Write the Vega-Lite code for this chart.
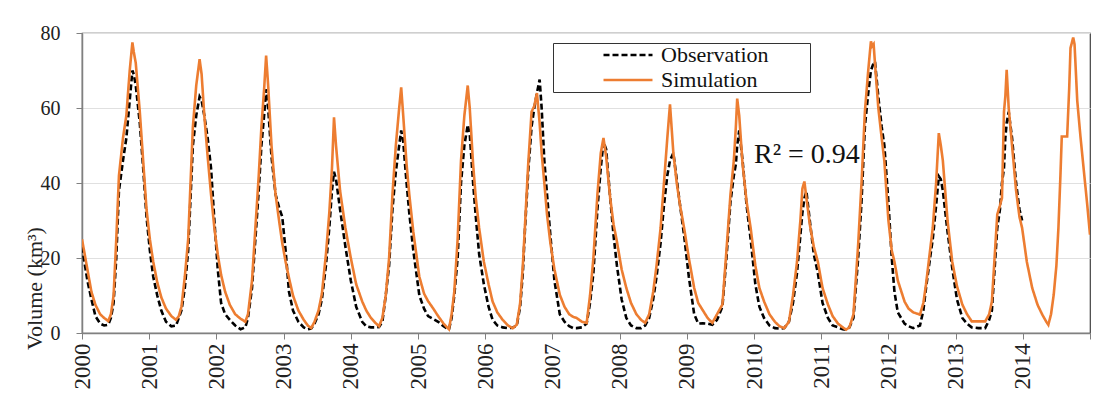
{
  "$schema": "https://vega.github.io/schema/vega-lite/v6.json",
  "width": 1008,
  "height": 300,
  "autosize": "none",
  "padding": {"left": 82, "top": 33, "right": 12, "bottom": 63},
  "background": "white",
  "config": {
    "view": {"stroke": "#404040", "strokeWidth": 1.2},
    "font": "Liberation Serif",
    "axis": {
      "labelFont": "Liberation Serif",
      "labelColor": "#222",
      "titleFont": "Liberation Serif",
      "titleColor": "#222",
      "titleFontWeight": "normal",
      "tickColor": "#808080",
      "domainColor": "#808080",
      "domainWidth": 1.5,
      "tickSize": 6
    },
    "axisX": {
      "labelFontSize": 23,
      "labelAngle": 270,
      "labelAlign": "right",
      "labelBaseline": "middle",
      "labelPadding": 4,
      "labelOverlap": false,
      "labelFlush": false,
      "grid": false
    },
    "axisY": {
      "labelFontSize": 20,
      "labelPadding": 16,
      "titleFontSize": 22,
      "grid": true,
      "gridColor": "#e0e0e0",
      "gridWidth": 1.2
    },
    "legend": {
      "labelFont": "Liberation Serif",
      "labelFontSize": 22,
      "labelColor": "#111",
      "titleFont": "Liberation Serif"
    }
  },
  "layer": [
    {
      "data": {"values": [
        {"t":2000.00,"Simulation":25,"Observation":23},
        {"t":2000.08,"Simulation":17,"Observation":14},
        {"t":2000.14,"Simulation":11,"Observation":9},
        {"t":2000.20,"Simulation":7.5,"Observation":4.5},
        {"t":2000.27,"Simulation":5,"Observation":2.5},
        {"t":2000.33,"Simulation":4,"Observation":2},
        {"t":2000.39,"Simulation":3.2,"Observation":2.2},
        {"t":2000.43,"Simulation":5,"Observation":4},
        {"t":2000.47,"Simulation":10,"Observation":8},
        {"t":2000.51,"Simulation":25,"Observation":20},
        {"t":2000.55,"Simulation":42,"Observation":38},
        {"t":2000.61,"Simulation":52,"Observation":46},
        {"t":2000.66,"Simulation":58,"Observation":52},
        {"t":2000.71,"Simulation":70,"Observation":62},
        {"t":2000.75,"Simulation":77.5,"Observation":70},
        {"t":2000.77,"Simulation":75,"Observation":69},
        {"t":2000.80,"Simulation":72,"Observation":66},
        {"t":2000.86,"Simulation":59,"Observation":56},
        {"t":2000.91,"Simulation":46,"Observation":44},
        {"t":2000.96,"Simulation":33,"Observation":31},
        {"t":2001.01,"Simulation":25,"Observation":22},
        {"t":2001.06,"Simulation":19,"Observation":15},
        {"t":2001.12,"Simulation":13.5,"Observation":10},
        {"t":2001.18,"Simulation":9.5,"Observation":6},
        {"t":2001.25,"Simulation":6.5,"Observation":3},
        {"t":2001.33,"Simulation":4.5,"Observation":1.8},
        {"t":2001.40,"Simulation":3.5,"Observation":2},
        {"t":2001.44,"Simulation":4.5,"Observation":4},
        {"t":2001.48,"Simulation":7,"Observation":6},
        {"t":2001.53,"Simulation":15,"Observation":12},
        {"t":2001.58,"Simulation":25,"Observation":22},
        {"t":2001.65,"Simulation":55,"Observation":50},
        {"t":2001.70,"Simulation":66,"Observation":58},
        {"t":2001.75,"Simulation":73,"Observation":63},
        {"t":2001.78,"Simulation":69,"Observation":62},
        {"t":2001.82,"Simulation":58,"Observation":58},
        {"t":2001.87,"Simulation":47,"Observation":52},
        {"t":2001.92,"Simulation":37,"Observation":44},
        {"t":2001.97,"Simulation":28,"Observation":30},
        {"t":2002.02,"Simulation":21,"Observation":17},
        {"t":2002.07,"Simulation":15.5,"Observation":8},
        {"t":2002.13,"Simulation":11,"Observation":5},
        {"t":2002.20,"Simulation":7.5,"Observation":3.5},
        {"t":2002.28,"Simulation":5,"Observation":2},
        {"t":2002.36,"Simulation":3.8,"Observation":1},
        {"t":2002.43,"Simulation":3,"Observation":1.5},
        {"t":2002.47,"Simulation":5,"Observation":4},
        {"t":2002.53,"Simulation":14,"Observation":12},
        {"t":2002.58,"Simulation":28,"Observation":25},
        {"t":2002.63,"Simulation":42,"Observation":38},
        {"t":2002.67,"Simulation":55,"Observation":50},
        {"t":2002.71,"Simulation":65,"Observation":58},
        {"t":2002.74,"Simulation":74,"Observation":65},
        {"t":2002.77,"Simulation":66,"Observation":60},
        {"t":2002.82,"Simulation":50,"Observation":47},
        {"t":2002.88,"Simulation":37,"Observation":37},
        {"t":2002.94,"Simulation":29,"Observation":33},
        {"t":2002.98,"Simulation":24,"Observation":31},
        {"t":2003.03,"Simulation":19,"Observation":22},
        {"t":2003.08,"Simulation":14.7,"Observation":11},
        {"t":2003.14,"Simulation":10,"Observation":6},
        {"t":2003.22,"Simulation":6,"Observation":3},
        {"t":2003.30,"Simulation":3.5,"Observation":1.5},
        {"t":2003.36,"Simulation":2,"Observation":1},
        {"t":2003.41,"Simulation":1.3,"Observation":1.2},
        {"t":2003.46,"Simulation":3,"Observation":2.5},
        {"t":2003.52,"Simulation":6,"Observation":5},
        {"t":2003.57,"Simulation":10.5,"Observation":9},
        {"t":2003.63,"Simulation":21,"Observation":18},
        {"t":2003.68,"Simulation":32,"Observation":28},
        {"t":2003.72,"Simulation":44,"Observation":38},
        {"t":2003.75,"Simulation":57.5,"Observation":43},
        {"t":2003.78,"Simulation":50,"Observation":41},
        {"t":2003.84,"Simulation":38,"Observation":33},
        {"t":2003.92,"Simulation":28,"Observation":23},
        {"t":2004.00,"Simulation":20,"Observation":14},
        {"t":2004.08,"Simulation":13,"Observation":7},
        {"t":2004.17,"Simulation":8.4,"Observation":3},
        {"t":2004.23,"Simulation":6,"Observation":1.8},
        {"t":2004.30,"Simulation":4,"Observation":1.5},
        {"t":2004.36,"Simulation":2.8,"Observation":1.5},
        {"t":2004.42,"Simulation":1.8,"Observation":1.6},
        {"t":2004.47,"Simulation":4,"Observation":3},
        {"t":2004.52,"Simulation":10,"Observation":10},
        {"t":2004.57,"Simulation":20,"Observation":18},
        {"t":2004.62,"Simulation":37,"Observation":33},
        {"t":2004.67,"Simulation":50,"Observation":43},
        {"t":2004.72,"Simulation":60,"Observation":50},
        {"t":2004.75,"Simulation":65.5,"Observation":54},
        {"t":2004.78,"Simulation":58,"Observation":51},
        {"t":2004.83,"Simulation":45,"Observation":40},
        {"t":2004.87,"Simulation":37,"Observation":32},
        {"t":2004.93,"Simulation":27,"Observation":22},
        {"t":2005.02,"Simulation":15,"Observation":10},
        {"t":2005.09,"Simulation":10.5,"Observation":6.5},
        {"t":2005.15,"Simulation":8.5,"Observation":4.5},
        {"t":2005.22,"Simulation":6.7,"Observation":3.8},
        {"t":2005.30,"Simulation":4.5,"Observation":3},
        {"t":2005.38,"Simulation":2.5,"Observation":1.8},
        {"t":2005.46,"Simulation":1,"Observation":0.9},
        {"t":2005.50,"Simulation":5,"Observation":4},
        {"t":2005.54,"Simulation":11,"Observation":10},
        {"t":2005.59,"Simulation":25,"Observation":20},
        {"t":2005.64,"Simulation":46,"Observation":40},
        {"t":2005.69,"Simulation":58,"Observation":50},
        {"t":2005.74,"Simulation":66,"Observation":55.5},
        {"t":2005.77,"Simulation":60,"Observation":53},
        {"t":2005.82,"Simulation":45,"Observation":40},
        {"t":2005.86,"Simulation":36,"Observation":31},
        {"t":2005.91,"Simulation":28,"Observation":21},
        {"t":2005.98,"Simulation":19,"Observation":13},
        {"t":2006.05,"Simulation":13,"Observation":7},
        {"t":2006.11,"Simulation":8.4,"Observation":3.5},
        {"t":2006.18,"Simulation":5.5,"Observation":2},
        {"t":2006.26,"Simulation":3.5,"Observation":1.5},
        {"t":2006.34,"Simulation":2,"Observation":1.3},
        {"t":2006.41,"Simulation":1.3,"Observation":1.4},
        {"t":2006.47,"Simulation":2.2,"Observation":2},
        {"t":2006.52,"Simulation":8,"Observation":7},
        {"t":2006.56,"Simulation":18,"Observation":16},
        {"t":2006.59,"Simulation":28,"Observation":27},
        {"t":2006.64,"Simulation":45,"Observation":43},
        {"t":2006.69,"Simulation":59,"Observation":55},
        {"t":2006.73,"Simulation":60.5,"Observation":60},
        {"t":2006.77,"Simulation":64,"Observation":64},
        {"t":2006.81,"Simulation":56,"Observation":67.6},
        {"t":2006.84,"Simulation":48,"Observation":60},
        {"t":2006.88,"Simulation":40,"Observation":46},
        {"t":2006.92,"Simulation":31.6,"Observation":37},
        {"t":2006.97,"Simulation":24,"Observation":26},
        {"t":2007.03,"Simulation":17,"Observation":14},
        {"t":2007.11,"Simulation":10.2,"Observation":5},
        {"t":2007.18,"Simulation":7,"Observation":3},
        {"t":2007.25,"Simulation":5,"Observation":1.8},
        {"t":2007.31,"Simulation":4.3,"Observation":1.3},
        {"t":2007.36,"Simulation":4,"Observation":1.3},
        {"t":2007.44,"Simulation":3,"Observation":1.5},
        {"t":2007.51,"Simulation":2.7,"Observation":2.5},
        {"t":2007.56,"Simulation":10,"Observation":8},
        {"t":2007.61,"Simulation":20,"Observation":16},
        {"t":2007.67,"Simulation":37,"Observation":33},
        {"t":2007.72,"Simulation":48,"Observation":44},
        {"t":2007.76,"Simulation":52,"Observation":51},
        {"t":2007.80,"Simulation":47,"Observation":49},
        {"t":2007.86,"Simulation":36,"Observation":36},
        {"t":2007.91,"Simulation":29,"Observation":26},
        {"t":2007.96,"Simulation":24.4,"Observation":18},
        {"t":2008.03,"Simulation":17,"Observation":9},
        {"t":2008.10,"Simulation":12,"Observation":4},
        {"t":2008.17,"Simulation":8,"Observation":2},
        {"t":2008.25,"Simulation":5,"Observation":1.3},
        {"t":2008.32,"Simulation":3.5,"Observation":1.3},
        {"t":2008.38,"Simulation":2.7,"Observation":2},
        {"t":2008.44,"Simulation":5,"Observation":4},
        {"t":2008.50,"Simulation":11,"Observation":9},
        {"t":2008.55,"Simulation":18,"Observation":15},
        {"t":2008.61,"Simulation":28,"Observation":24},
        {"t":2008.66,"Simulation":40,"Observation":34},
        {"t":2008.71,"Simulation":52,"Observation":42},
        {"t":2008.75,"Simulation":61,"Observation":46},
        {"t":2008.80,"Simulation":48,"Observation":48},
        {"t":2008.85,"Simulation":40,"Observation":41},
        {"t":2008.90,"Simulation":34,"Observation":34},
        {"t":2008.96,"Simulation":28,"Observation":26},
        {"t":2009.03,"Simulation":20,"Observation":15},
        {"t":2009.11,"Simulation":12,"Observation":5},
        {"t":2009.17,"Simulation":8,"Observation":2.5},
        {"t":2009.24,"Simulation":6,"Observation":2.6},
        {"t":2009.31,"Simulation":4,"Observation":2.5},
        {"t":2009.38,"Simulation":2.7,"Observation":2.2},
        {"t":2009.45,"Simulation":5,"Observation":3.5},
        {"t":2009.53,"Simulation":7.6,"Observation":7},
        {"t":2009.59,"Simulation":22,"Observation":20},
        {"t":2009.65,"Simulation":37,"Observation":35},
        {"t":2009.70,"Simulation":46,"Observation":42},
        {"t":2009.73,"Simulation":55,"Observation":45},
        {"t":2009.75,"Simulation":62.5,"Observation":50},
        {"t":2009.78,"Simulation":58,"Observation":54},
        {"t":2009.83,"Simulation":45,"Observation":46},
        {"t":2009.89,"Simulation":35,"Observation":34},
        {"t":2009.95,"Simulation":28,"Observation":25},
        {"t":2010.02,"Simulation":18,"Observation":13},
        {"t":2010.08,"Simulation":12,"Observation":7},
        {"t":2010.15,"Simulation":8.4,"Observation":4},
        {"t":2010.23,"Simulation":5,"Observation":2},
        {"t":2010.31,"Simulation":3,"Observation":1.3},
        {"t":2010.38,"Simulation":1.8,"Observation":1.2},
        {"t":2010.45,"Simulation":1.3,"Observation":1.3},
        {"t":2010.52,"Simulation":3,"Observation":3},
        {"t":2010.58,"Simulation":10,"Observation":8},
        {"t":2010.64,"Simulation":19,"Observation":16},
        {"t":2010.69,"Simulation":30,"Observation":26},
        {"t":2010.72,"Simulation":38.5,"Observation":32},
        {"t":2010.75,"Simulation":40.4,"Observation":36},
        {"t":2010.78,"Simulation":36,"Observation":37.8},
        {"t":2010.83,"Simulation":29,"Observation":30},
        {"t":2010.89,"Simulation":23,"Observation":21},
        {"t":2010.95,"Simulation":19,"Observation":16},
        {"t":2011.02,"Simulation":12,"Observation":8},
        {"t":2011.10,"Simulation":7.6,"Observation":4},
        {"t":2011.17,"Simulation":4.5,"Observation":2},
        {"t":2011.25,"Simulation":2.5,"Observation":1.5},
        {"t":2011.32,"Simulation":1.5,"Observation":1},
        {"t":2011.37,"Simulation":0.9,"Observation":0.9},
        {"t":2011.42,"Simulation":1.5,"Observation":1.5},
        {"t":2011.48,"Simulation":5,"Observation":4},
        {"t":2011.55,"Simulation":23.6,"Observation":20},
        {"t":2011.60,"Simulation":40,"Observation":35},
        {"t":2011.65,"Simulation":59,"Observation":55},
        {"t":2011.70,"Simulation":70,"Observation":64},
        {"t":2011.74,"Simulation":77.8,"Observation":70},
        {"t":2011.76,"Simulation":76.5,"Observation":71},
        {"t":2011.78,"Simulation":77,"Observation":72},
        {"t":2011.80,"Simulation":72,"Observation":72.4},
        {"t":2011.85,"Simulation":60,"Observation":63},
        {"t":2011.90,"Simulation":52,"Observation":55},
        {"t":2011.94,"Simulation":45.8,"Observation":50},
        {"t":2012.00,"Simulation":30,"Observation":35},
        {"t":2012.05,"Simulation":22,"Observation":20},
        {"t":2012.09,"Simulation":19,"Observation":11},
        {"t":2012.14,"Simulation":14,"Observation":5.5},
        {"t":2012.24,"Simulation":8.4,"Observation":2.5},
        {"t":2012.30,"Simulation":6.5,"Observation":1.8},
        {"t":2012.37,"Simulation":5.5,"Observation":1.3},
        {"t":2012.47,"Simulation":4.9,"Observation":2},
        {"t":2012.52,"Simulation":8,"Observation":6},
        {"t":2012.56,"Simulation":13,"Observation":12},
        {"t":2012.62,"Simulation":22,"Observation":20},
        {"t":2012.66,"Simulation":28,"Observation":25},
        {"t":2012.71,"Simulation":40,"Observation":34},
        {"t":2012.75,"Simulation":53.3,"Observation":41.8},
        {"t":2012.78,"Simulation":50,"Observation":41},
        {"t":2012.81,"Simulation":46,"Observation":38},
        {"t":2012.88,"Simulation":30,"Observation":27},
        {"t":2012.95,"Simulation":19,"Observation":17.3},
        {"t":2013.02,"Simulation":12.5,"Observation":9},
        {"t":2013.10,"Simulation":7.6,"Observation":4},
        {"t":2013.17,"Simulation":5,"Observation":2.5},
        {"t":2013.24,"Simulation":3.1,"Observation":1.5},
        {"t":2013.34,"Simulation":3.1,"Observation":1.3},
        {"t":2013.44,"Simulation":3.1,"Observation":1.3},
        {"t":2013.50,"Simulation":5,"Observation":3.5},
        {"t":2013.54,"Simulation":8.4,"Observation":6},
        {"t":2013.58,"Simulation":20,"Observation":17},
        {"t":2013.62,"Simulation":31.6,"Observation":28},
        {"t":2013.66,"Simulation":34,"Observation":33},
        {"t":2013.69,"Simulation":36,"Observation":40},
        {"t":2013.72,"Simulation":59,"Observation":44},
        {"t":2013.74,"Simulation":63,"Observation":52},
        {"t":2013.76,"Simulation":70.2,"Observation":56},
        {"t":2013.79,"Simulation":60,"Observation":59},
        {"t":2013.84,"Simulation":50,"Observation":52},
        {"t":2013.90,"Simulation":38,"Observation":40},
        {"t":2013.95,"Simulation":31,"Observation":33},
        {"t":2013.99,"Simulation":28,"Observation":30},
        {"t":2014.06,"Simulation":19},
        {"t":2014.14,"Simulation":12},
        {"t":2014.22,"Simulation":7.5},
        {"t":2014.29,"Simulation":4.9},
        {"t":2014.35,"Simulation":3},
        {"t":2014.38,"Simulation":2.2},
        {"t":2014.42,"Simulation":5},
        {"t":2014.46,"Simulation":10.2},
        {"t":2014.50,"Simulation":18},
        {"t":2014.53,"Simulation":28},
        {"t":2014.56,"Simulation":42},
        {"t":2014.58,"Simulation":52.4},
        {"t":2014.66,"Simulation":52.4},
        {"t":2014.69,"Simulation":65},
        {"t":2014.71,"Simulation":76},
        {"t":2014.75,"Simulation":78.8},
        {"t":2014.77,"Simulation":77},
        {"t":2014.81,"Simulation":62},
        {"t":2014.86,"Simulation":52},
        {"t":2014.91,"Simulation":43},
        {"t":2014.96,"Simulation":34},
        {"t":2015.00,"Simulation":26.2}
      ]},
      "transform": [
        {"fold": ["Observation", "Simulation"], "as": ["series", "v"]},
        {"filter": "isValid(datum.v)"}
      ],
      "mark": {"type": "line", "strokeWidth": 2.6, "clip": true},
      "encoding": {
        "x": {
          "field": "t", "type": "quantitative",
          "scale": {"domain": [2000, 2015], "nice": false, "zero": false},
          "axis": {
            "title": null,
            "values": [2000,2000.5,2001,2001.5,2002,2002.5,2003,2003.5,2004,2004.5,2005,2005.5,2006,2006.5,2007,2007.5,2008,2008.5,2009,2009.5,2010,2010.5,2011,2011.5,2012,2012.5,2013,2013.5,2014,2014.5,2015],
            "labelExpr": "(datum.value % 1 == 0 && datum.value < 2015) ? format(datum.value, 'd') : ''"
          }
        },
        "y": {
          "field": "v", "type": "quantitative",
          "scale": {"domain": [0, 80], "nice": false},
          "axis": {
            "title": "Volume (km³)",
            "titleAngle": 270,
            "titleAlign": "center",
            "titleBaseline": "alphabetic",
            "titleX": -41,
            "titleY": 255,
            "values": [0, 20, 40, 60, 80]
          }
        },
        "color": {
          "field": "series", "type": "nominal",
          "scale": {"domain": ["Observation", "Simulation"], "range": ["#000000", "#ED7D31"]},
          "legend": {
            "title": "MMMMMMMMMMMMMM",
            "titleColor": "white",
            "titleOrient": "right",
            "titleFontSize": 3,
            "titlePadding": 0,
            "orient": "none",
            "legendX": 471,
            "legendY": 10,
            "direction": "vertical",
            "strokeColor": "#333",
            "fillColor": "white",
            "padding": 1,
            "symbolType": "M-4,0H4",
            "symbolSize": 150,
            "symbolStrokeWidth": 2.6,
            "symbolOffset": 63,
            "labelOffset": 22,
            "rowPadding": 3
          }
        },
        "strokeDash": {
          "field": "series", "type": "nominal",
          "scale": {"domain": ["Observation", "Simulation"], "range": [[6, 3], [1, 0]]},
          "legend": {
            "title": "MMMMMMMMMMMMMM",
            "titleColor": "white",
            "titleOrient": "right",
            "titleFontSize": 3,
            "titlePadding": 0,
            "orient": "none",
            "legendX": 471,
            "legendY": 10,
            "direction": "vertical",
            "strokeColor": "#333",
            "fillColor": "white",
            "padding": 1,
            "symbolType": "M-4,0H4",
            "symbolSize": 150,
            "symbolStrokeWidth": 2.6,
            "symbolOffset": 63,
            "labelOffset": 22,
            "rowPadding": 3
          }
        }
      }
    },
    {
      "data": {"values": [{"t": 2010.0, "v": 45.3, "label": "R² = 0.94"}]},
      "mark": {"type": "text", "align": "left", "baseline": "alphabetic", "font": "Liberation Serif", "fontSize": 28, "color": "#111"},
      "encoding": {
        "x": {"field": "t", "type": "quantitative"},
        "y": {"field": "v", "type": "quantitative"},
        "text": {"field": "label"}
      }
    }
  ]
}
